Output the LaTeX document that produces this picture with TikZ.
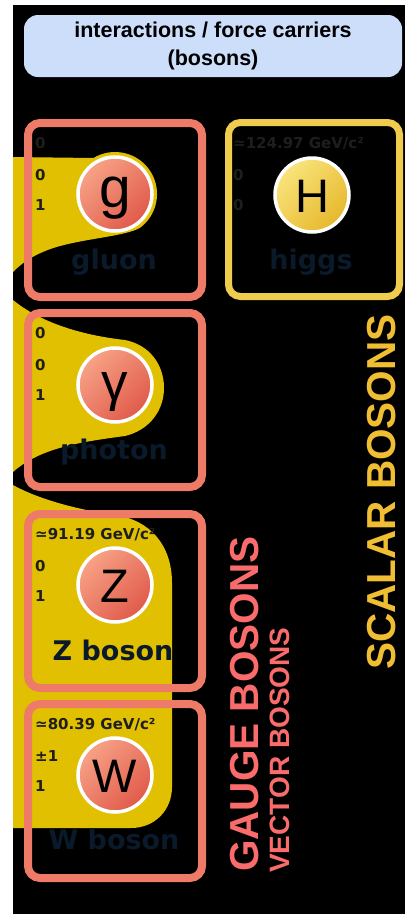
\documentclass[tikz,border=0pt]{standalone}
\usepackage{fontspec}
\setmainfont{Liberation Sans}
\newfontfamily\dejavu{DejaVu Sans}
\usetikzlibrary{positioning}

\definecolor{gaugered}{RGB}{238,123,104}
\definecolor{scalargold}{RGB}{239,204,78}
\definecolor{lobe}{RGB}{224,192,0}
\definecolor{headblue}{RGB}{205,222,250}
\definecolor{ballred1}{RGB}{247,162,134}
\definecolor{ballred2}{RGB}{224,90,74}
\definecolor{ballgold1}{RGB}{249,228,124}
\definecolor{ballgold2}{RGB}{230,184,44}
\definecolor{namecol}{RGB}{10,26,42}
\definecolor{propcol}{RGB}{30,30,30}
\definecolor{gaugetxt}{RGB}{250,108,108}
\definecolor{scalartxt}{RGB}{240,190,50}

\begin{document}
\begin{tikzpicture}[x=1pt, y=-1pt,
    card/.style={draw=#1, rounded corners=12pt, line width=8pt, minimum width=174pt, minimum height=174pt},
    particle/.style={circle, draw=white, line width=3.5pt, minimum size=74pt, inner sep=0pt, text height=35pt, text depth=0pt, font=\fontsize{47}{47}\selectfont},
    gaugeball/.style={particle, top color=ballred1, bottom color=ballred2, shading angle=45},
    scalarball/.style={particle, top color=ballgold1, bottom color=ballgold2, shading angle=45},
    prop/.style={anchor=base west, inner sep=0pt, text=propcol, font=\dejavu\bfseries\fontsize{15}{15}\selectfont},
    partname/.style={anchor=base, inner sep=0pt, text=namecol, font=\dejavu\bfseries\fontsize{27}{27}\selectfont},
    sidelabel/.style={rotate=90, anchor=base west, inner sep=0pt, font=\bfseries\fontsize{40.5}{40.5}\selectfont}
  ]
  \useasboundingbox (0,0) rectangle (410,914);
  \fill[white] (0,0) rectangle (410,914);
  \fill[black] (13,5) rectangle (405,914);

  \node[fill=headblue, rounded corners=14pt, minimum width=378pt, minimum height=62pt, align=center,
        font=\bfseries\fontsize{21.5}{28}\selectfont] (title) at (213,46) {interactions / force carriers\\(bosons)};

  % yellow lobes behind the gauge bosons
  \fill[lobe] (13,157) -- (93.4,158) arc[start angle=-121, end angle=54, radius=42]
    .. controls (125,236) and (90,238) .. (60,246) .. controls (35,253) and (22,263) .. (13,272) -- cycle;
  \fill[lobe] (13,300) .. controls (40,322) and (80,335) .. (125,340) .. controls (150,345) and (164,365) .. (164,388)
    .. controls (164,410) and (150,430) .. (125,436) .. controls (80,442) and (40,448) .. (13,472) -- cycle;
  \fill[lobe] (13,485) .. controls (40,500) and (80,510) .. (115,515) .. controls (150,520) and (172,545) .. (172,583)
    -- (172,787) .. controls (172,810) and (155,828) .. (131,828) -- (13,828) -- cycle;

  % cards
  \node[card=gaugered] (gluonbox) at (115,210) {};
  \node[card=gaugered] (photonbox) at (115,400) {};
  \node[card=gaugered] (zbox) at (115,601) {};
  \node[card=gaugered] (wbox) at (115,791) {};
  \node[card=scalargold, line width=7pt, minimum width=171pt] (higgsbox) at (314,209.5) {};

  % particles
  \node[gaugeball, font=\fontsize{57}{57}\selectfont, text height=26pt] (g) at (115,194) {g};
  \node[gaugeball, font=\fontsize{53}{53}\selectfont, text height=31pt] (gamma) at (115,385) {γ};
  \node[gaugeball] (Z) at (115,585) {Z};
  \node[gaugeball] (W) at (115,775) {W};
  \node[scalarball] (H) at (312,195) {H};

  % mass, charge, spin
  \node[prop] (gmass) at (35,148) {0};
  \node[prop] (gcharge) at (35,180) {0};
  \node[prop] (gspin) at (35,210) {1};
  \node[prop] (gammamass) at (35,338) {0};
  \node[prop] (gammacharge) at (35,370) {0};
  \node[prop] (gammaspin) at (35,400) {1};
  \node[prop] (zmass) at (35,539) {≃91.19 GeV/c²};
  \node[prop] (zcharge) at (35,571) {0};
  \node[prop] (zspin) at (35,601) {1};
  \node[prop] (wmass) at (35,729) {≃80.39 GeV/c²};
  \node[prop] (wcharge) at (35,761) {±1};
  \node[prop] (wspin) at (35,791) {1};
  \node[prop] (hmass) at (233,148) {≃124.97 GeV/c²};
  \node[prop] (hcharge) at (233,180) {0};
  \node[prop] (hspin) at (233,210) {0};

  % names
  \node[partname] (gluonname) at (114,269) {gluon};
  \node[partname] (photonname) at (114,459) {photon};
  \node[partname] (zname) at (113,660) {Z boson};
  \node[partname] (wname) at (114,849) {W boson};
  \node[partname] (higgsname) at (311,269) {higgs};

  % side labels
  \node[sidelabel, text=gaugetxt] (gauge) at (258,872) {GAUGE BOSONS};
  \node[sidelabel, text=gaugetxt, font=\bfseries\fontsize{28}{28}\selectfont] (vector) at (289,873) {VECTOR BOSONS};
  \node[sidelabel, text=scalartxt] (scalar) at (395,670) {SCALAR BOSONS};
\end{tikzpicture}
\end{document}
